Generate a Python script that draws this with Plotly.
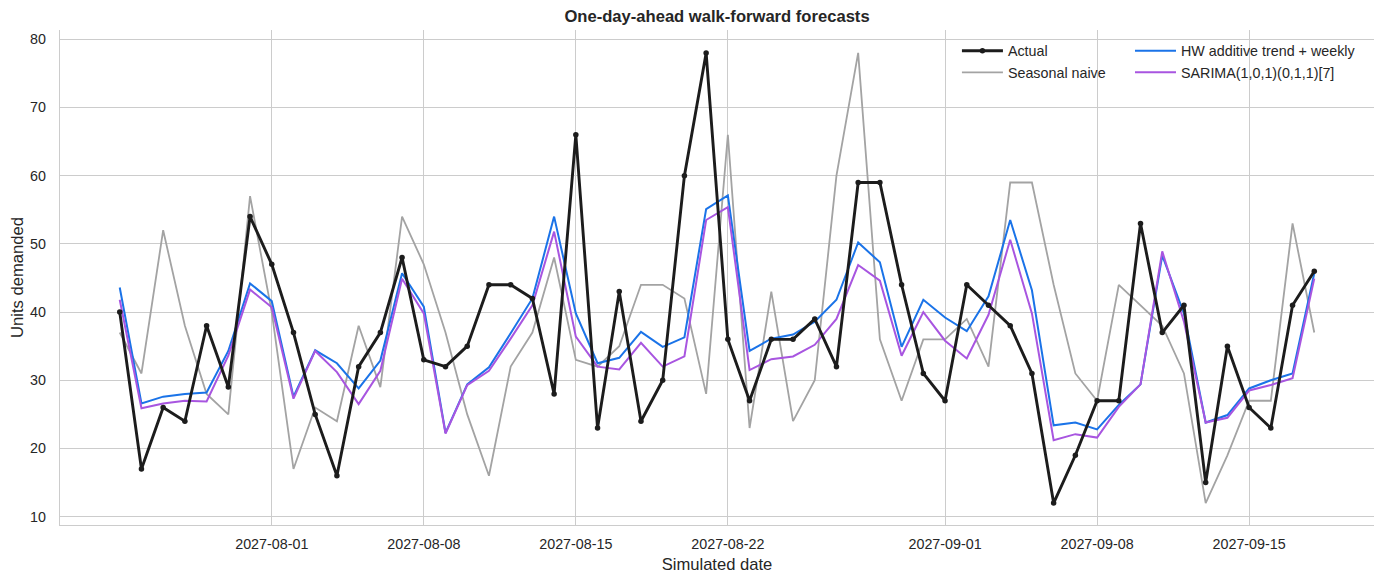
import pandas as pd
import plotly.graph_objects as go

start_date = "2027-07-25"
actual = [40, 17, 26, 24, 38, 29, 54, 47, 37, 25, 16, 32, 37, 48,
          33, 32, 35, 44, 44, 42, 28, 66, 23, 43, 24, 30, 60, 78,
          36, 27, 36, 36, 39, 32, 59, 59, 44, 31, 27, 44, 41, 38,
          31, 12, 19, 27, 27, 53, 37, 41, 15, 35, 26, 23, 41, 46]
seasonal_naive = [37, 31, 52, 38, 28, 25, 57, 40, 17, 26, 24, 38, 29, 54,
                  47, 37, 25, 16, 32, 37, 48, 33, 32, 35, 44, 44, 42, 28,
                  66, 23, 43, 24, 30, 60, 78, 36, 27, 36, 36, 39, 32, 59,
                  59, 44, 31, 27, 44, 41, 38, 31, 12, 19, 27, 27, 53, 37]
hw = [43.6, 26.6, 27.6, 28.0, 28.2, 34.3, 44.2, 41.6, 27.6, 34.4, 32.5, 28.8, 32.9, 45.7,
      40.8, 22.3, 29.4, 31.9, 36.9, 42.0, 54.0, 39.8, 32.5, 33.3, 37.1, 34.9, 36.3, 55.1,
      57.1, 34.3, 36.1, 36.7, 38.6, 41.8, 50.2, 47.3, 34.9, 41.8, 39.2, 37.2, 42.3, 53.5,
      43.2, 23.4, 23.8, 22.8, 26.4, 29.4, 48.3, 39.8, 23.8, 24.9, 28.8, 30.0, 31.0, 45.7]
sarima = [41.8, 25.9, 26.6, 27.0, 26.9, 33.6, 43.3, 40.7, 27.3, 34.3, 31.2, 26.5, 31.4, 44.9,
          39.8, 22.2, 29.3, 31.4, 36.1, 41.0, 51.8, 36.4, 32.0, 31.6, 35.5, 32.0, 33.5, 53.5,
          55.4, 31.5, 33.1, 33.5, 35.2, 39.0, 46.9, 44.6, 33.6, 40.0, 35.8, 33.2, 39.6, 50.6,
          39.8, 21.2, 22.1, 21.6, 26.1, 29.4, 48.9, 38.6, 23.8, 24.5, 28.5, 29.3, 30.3, 44.9]
x_tick_dates = ["2027-08-01", "2027-08-08", "2027-08-15", "2027-08-22",
                "2027-09-01", "2027-09-08", "2027-09-15"]
y_ticks = [10, 20, 30, 40, 50, 60, 70, 80]

dates = pd.date_range(start_date, periods=len(actual), freq="D")
pad = pd.Timedelta(days=2.75)

FONT = "Liberation Sans, Arial, Helvetica, sans-serif"
GRID = "#cccccc"
TXT = "#262626"

fig = go.Figure()
fig.add_trace(go.Scatter(x=dates, y=seasonal_naive, mode="lines", name="Seasonal naive",
                         line=dict(color="#a3a3a3", width=1.8),
                         legend="legend", legendrank=2))
fig.add_trace(go.Scatter(x=dates, y=hw, mode="lines", name="HW additive trend + weekly",
                         line=dict(color="#1a73e8", width=2.0),
                         legend="legend2", legendrank=1))
fig.add_trace(go.Scatter(x=dates, y=sarima, mode="lines", name="SARIMA(1,0,1)(0,1,1)[7]",
                         line=dict(color="#a855e0", width=2.0),
                         legend="legend2", legendrank=2))
fig.add_trace(go.Scatter(x=dates, y=actual, mode="lines+markers", name="Actual",
                         line=dict(color="#1c1c1c", width=2.9),
                         marker=dict(color="#1c1c1c", size=5.5),
                         legend="legend", legendrank=1))

legend_common = dict(orientation="v", yanchor="top", xanchor="left",
                     bgcolor="rgba(255,255,255,0)", borderwidth=0,
                     font=dict(size=14.3, color=TXT), itemwidth=41,
                     traceorder="normal")

# page body adds an 8px offset; figure is sized so the plot area lands where the reference has it
fig.update_layout(
    width=1376, height=576,
    margin=dict(l=52, r=10, t=22, b=59, autoexpand=False),
    paper_bgcolor="white", plot_bgcolor="white",
    font=dict(family=FONT, size=14.3, color=TXT),
    title=dict(text="<b>One-day-ahead walk-forward forecasts</b>",
               x=0.5, xanchor="center", xref="paper",
               y=1 - 8 / 576, yanchor="middle", yref="container",
               font=dict(size=16.6, color=TXT)),
    showlegend=True,
    legend=dict(x=0.6826, y=0.99, **legend_common),
    legend2=dict(x=0.8143, y=0.99, **legend_common),
    xaxis=dict(type="date",
               range=[dates[0] - pad, dates[-1] + pad],
               tickvals=pd.to_datetime(x_tick_dates),
               ticktext=x_tick_dates,
               showgrid=True, gridcolor=GRID, gridwidth=1,
               showline=True, linecolor=GRID, linewidth=1.3,
               ticks="", ticklabelstandoff=6,
               zeroline=False,
               title=dict(text="Simulated date", font=dict(size=16.6), standoff=7)),
    yaxis=dict(range=[8.78, 81.36],
               tickvals=y_ticks,
               showgrid=True, gridcolor=GRID, gridwidth=1,
               showline=True, linecolor=GRID, linewidth=1.3,
               ticks="", ticklabelstandoff=10,
               zeroline=False,
               title=dict(text="Units demanded", font=dict(size=16.6), standoff=3)),
)

fig.write_html("out.html")
